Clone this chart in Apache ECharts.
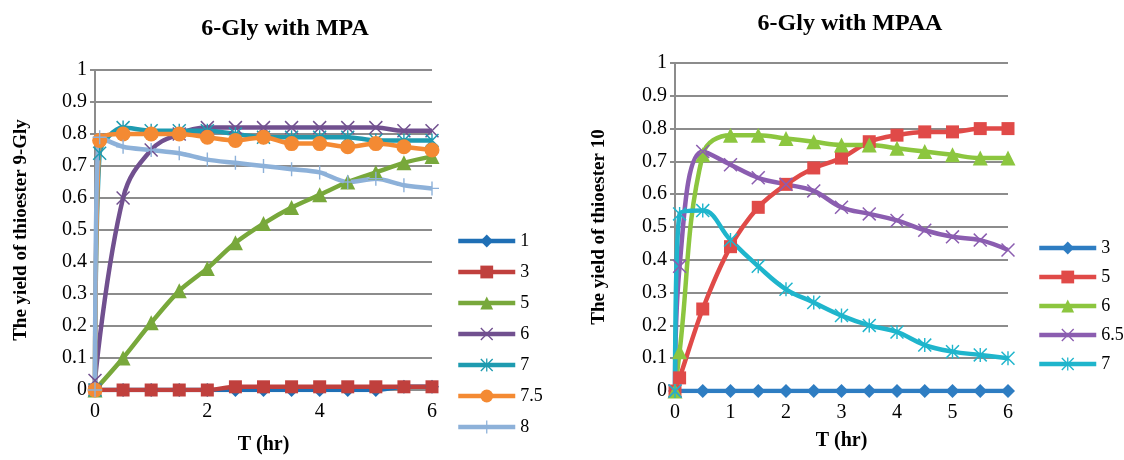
<!DOCTYPE html>
<html>
<head>
<meta charset="utf-8">
<script src="https://cdn.jsdelivr.net/npm/echarts@6/dist/echarts.min.js"></script>
<style>
  html, body { margin: 0; padding: 0; background: #fff; }
  #chart { width: 1124px; height: 460px; }
</style>
</head>
<body>
<div id="chart"></div>
<script>
// time points (hr)
var hoursA = [0, 0.5, 1, 1.5, 2, 2.5, 3, 3.5, 4, 4.5, 5, 5.5, 6];
var hoursB = [0, 0.083, 0.5, 1, 1.5, 2, 2.5, 3, 3.5, 4, 4.5, 5, 5.5, 6];

// left chart: 6-Gly with MPA (pH series)
var mpaNames = ['1', '3', '5', '6', '7', '7.5', '8'];
var mpa1 = [0, 0, 0, 0, 0, 0, 0, 0, 0, 0, 0, 0.01, 0.01];
var mpa3 = [0, 0, 0, 0, 0, 0.01, 0.01, 0.01, 0.01, 0.01, 0.01, 0.01, 0.01];
var mpa5 = [0, 0.1, 0.21, 0.31, 0.38, 0.46, 0.52, 0.57, 0.61, 0.65, 0.68, 0.71, 0.73];
var mpa6 = [0.03, 0.6, 0.75, 0.8, 0.82, 0.82, 0.82, 0.82, 0.82, 0.82, 0.82, 0.81, 0.81];
var mpa7 = [0, 0.74, 0.82, 0.81, 0.81, 0.81, 0.8, 0.79, 0.79, 0.79, 0.79, 0.78, 0.78, 0.78];
var mpa75 = [0, 0.78, 0.8, 0.8, 0.8, 0.79, 0.78, 0.79, 0.77, 0.77, 0.76, 0.77, 0.76, 0.75];
var mpa8 = [0, 0.79, 0.76, 0.75, 0.74, 0.72, 0.71, 0.7, 0.69, 0.68, 0.65, 0.66, 0.64, 0.63];

// right chart: 6-Gly with MPAA
var mpaaNames = ['3', '5', '6', '6.5', '7'];
var mpaa3 = [0, 0, 0, 0, 0, 0, 0, 0, 0, 0, 0, 0, 0];
var mpaa5 = [0, 0.04, 0.25, 0.44, 0.56, 0.63, 0.68, 0.71, 0.76, 0.78, 0.79, 0.79, 0.8, 0.8];
var mpaa6 = [0, 0.12, 0.72, 0.78, 0.78, 0.77, 0.76, 0.75, 0.75, 0.74, 0.73, 0.72, 0.71, 0.71];
var mpaa65 = [0, 0.38, 0.73, 0.69, 0.65, 0.63, 0.61, 0.56, 0.54, 0.52, 0.49, 0.47, 0.46, 0.43];
var mpaa7 = [0, 0.54, 0.55, 0.46, 0.38, 0.31, 0.27, 0.23, 0.2, 0.18, 0.14, 0.12, 0.11, 0.1];

var SERIF = 'Liberation Serif';
var GRAY = '#8c8c8c';
var SYM_X = 'path://M0,1.5L1.5,0L20,18.5L18.5,20ZM18.5,0L20,1.5L1.5,20L0,18.5Z';
var SYM_STAR = 'path://M0,1.5L1.5,0L20,18.5L18.5,20ZM18.5,0L20,1.5L1.5,20L0,18.5ZM9,0L11,0L11,20L9,20Z';
var SYM_PLUS = 'path://M9,0L11,0L11,20L9,20ZM0,9L20,9L20,11L0,11Z';

// right legend names carry a trailing space so they don't clash with left ones
function rname(n) { return n + ' '; }

function pairs(xs, ys) {
  return ys.map(function (v, i) { return [xs[i], v]; });
}

function line(name, xs, ys, color, symbol, size, idx, smooth) {
  return {
    name: name,
    type: 'line',
    xAxisIndex: idx,
    yAxisIndex: idx,
    data: pairs(xs, ys),
    color: color,
    symbol: symbol,
    symbolSize: size,
    smooth: smooth,
    lineStyle: { width: 4.5, color: color },
    itemStyle: { color: color },
    emphasis: { disabled: true }
  };
}

function yAxis(idx, name, gap) {
  return {
    type: 'value',
    gridIndex: idx,
    min: 0, max: 1, interval: 0.1,
    name: name,
    nameLocation: 'middle',
    nameGap: gap,
    nameTextStyle: { fontFamily: SERIF, fontWeight: 'bold', fontSize: 19, color: '#000' },
    axisLine: { show: true, lineStyle: { color: GRAY, width: 2 } },
    axisTick: { show: true, length: 5, lineStyle: { color: GRAY, width: 2 } },
    axisLabel: {
      fontFamily: SERIF, fontSize: 20, color: '#000', margin: 8,
      formatter: function (v) { return String(Math.round(v * 10) / 10); }
    },
    splitLine: { show: true, lineStyle: { color: GRAY, width: 2 } }
  };
}

function xAxis(idx, step, gap) {
  return {
    type: 'value',
    gridIndex: idx,
    min: 0, max: 6, interval: step,
    name: 'T (hr)',
    nameLocation: 'middle',
    nameGap: gap,
    nameTextStyle: { fontFamily: SERIF, fontWeight: 'bold', fontSize: 20, color: '#000' },
    axisLine: { show: true, onZero: false, lineStyle: { color: GRAY, width: 2 } },
    axisTick: { show: false },
    axisLabel: { fontFamily: SERIF, fontSize: 20, color: '#000', margin: 12 },
    splitLine: { show: false }
  };
}

function legend(names, left, top, gap) {
  return {
    data: names,
    formatter: function (n) { return n.trim(); },
    orient: 'vertical', left: left, top: top,
    itemWidth: 57, itemHeight: 16, itemGap: gap,
    lineStyle: { width: 4.5 },
    textStyle: { fontFamily: SERIF, fontSize: 18, color: '#000', lineHeight: 20 }
  };
}

var chart = echarts.init(document.getElementById('chart'));
chart.setOption({
  backgroundColor: '#fff',
  animation: false,
  title: [
    { text: '6-Gly with MPA', left: 280, top: 12, textAlign: 'center',
      textStyle: { fontFamily: SERIF, fontWeight: 'bold', fontSize: 24, color: '#000' } },
    { text: '6-Gly with MPAA', left: 845, top: 7, textAlign: 'center',
      textStyle: { fontFamily: SERIF, fontWeight: 'bold', fontSize: 24, color: '#000' } }
  ],
  grid: [
    { left: 95, right: 692, top: 70, bottom: 65 },
    { left: 675, right: 116, top: 63, bottom: 69 }
  ],
  xAxis: [xAxis(0, 2, 45), xAxis(1, 1, 40)],
  yAxis: [yAxis(0, 'The yield of thioester 9-Gly', 64), yAxis(1, 'The yield of thioester 10', 66)],
  legend: [
    legend(mpaNames, 451, 226, 11),
    legend(mpaaNames.map(rname), 1032, 233, 9)
  ],
  series: [
    line(mpaNames[0], hoursA, mpa1, '#1f6fb5', 'diamond', 14, 0, 0.3),
    line(mpaNames[1], hoursA, mpa3, '#c0403d', 'rect', 13, 0, 0.3),
    line(mpaNames[2], hoursA, mpa5, '#78a83b', 'triangle', 15, 0, 0.3),
    line(mpaNames[3], hoursA, mpa6, '#71508f', SYM_X, 14, 0, 0.4),
    line(mpaNames[4], hoursB, mpa7, '#1e9bb0', SYM_STAR, 14, 0, 0.3),
    line(mpaNames[5], hoursB, mpa75, '#f48a33', 'circle', 15, 0, 0.3),
    line(mpaNames[6], hoursB, mpa8, '#8db1d9', SYM_PLUS, 14, 0, 0.3),
    line(rname(mpaaNames[0]), hoursA, mpaa3, '#2e7dc2', 'diamond', 14, 1, 0.3),
    line(rname(mpaaNames[1]), hoursB, mpaa5, '#e04a48', 'rect', 13, 1, 0.3),
    line(rname(mpaaNames[2]), hoursB, mpaa6, '#8cc63f', 'triangle', 15, 1, 0.4),
    line(rname(mpaaNames[3]), hoursB, mpaa65, '#8b5db0', SYM_X, 14, 1, 0.4),
    line(rname(mpaaNames[4]), hoursB, mpaa7, '#1fb5cc', SYM_STAR, 14, 1, 0.4)
  ]
});
</script>
</body>
</html>
